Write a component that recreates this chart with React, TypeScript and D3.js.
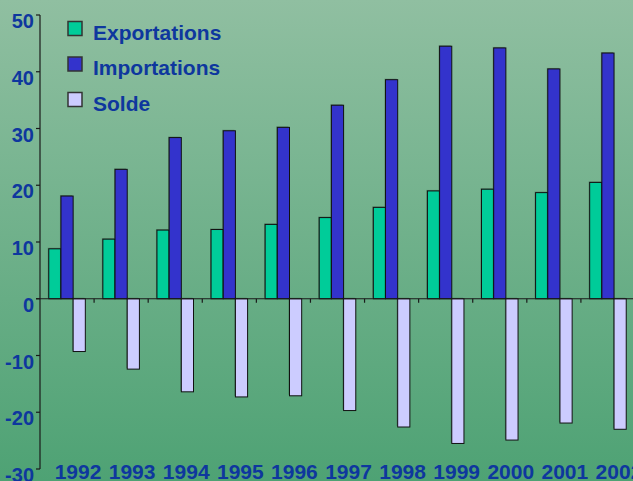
import React from "react";
import * as d3 from "d3";

const years = ["1992","1993","1994","1995","1996","1997","1998","1999","2000","2001","2002"];
const exportations = [8.8, 10.5, 12.1, 12.2, 13.1, 14.3, 16.1, 19.0, 19.3, 18.7, 20.5];
const importations = [18.1, 22.8, 28.4, 29.6, 30.2, 34.1, 38.6, 44.5, 44.2, 40.5, 43.3];
const solde = [-9.3, -12.4, -16.4, -17.3, -17.1, -19.7, -22.6, -25.5, -24.9, -21.9, -23.0];
const yTicks = [50, 40, 30, 20, 10, 0, -10, -20, -30];
const seriesNames = ["Exportations", "Importations", "Solde"];
const seriesColors = ["#00CC99", "#3333CC", "#CCCCFF"];

const W = 633, H = 481;
const TEXT = "#0E379E";

export default function App() {
  const y = d3.scaleLinear().domain([-30, 50]).range([469, 15]);
  const x0 = d3.scaleBand<string>().domain(years).range([40, 635]).padding(0);
  const x1 = d3.scaleBand<string>().domain(seriesNames).range([0, x0.bandwidth()]).paddingInner(0).paddingOuter(0.72);
  const legendY = d3.scalePoint<string>().domain(seriesNames).range([28.5, 99.5]);
  const data = [exportations, importations, solde];

  return (
    <svg width={W} height={H} style={{ position: "absolute", left: 0, top: 0 }} fontFamily="Liberation Sans, Arial, sans-serif">
      <defs>
        <linearGradient id="bg" x1="0" y1="0" x2="0" y2="1">
          <stop offset="0" stopColor="#90BFA1" />
          <stop offset="1" stopColor="#4EA274" />
        </linearGradient>
      </defs>
      <rect x={0} y={0} width={W} height={H} fill="url(#bg)" />

      {/* bars */}
      {years.map((yr, i) => (
        <g key={yr} transform={`translate(${x0(yr)},0)`}>
          {seriesNames.map((s, k) => {
            const v = data[k][i];
            const top = y(Math.max(0, v));
            const h = Math.abs(y(v) - y(0));
            return (
              <g key={s}>
                <rect x={(x1(s) as number) - 1} y={top - 1} width={x1.bandwidth()} height={h} fill="rgba(0,0,0,0.25)" />
                <rect x={x1(s)} y={top} width={x1.bandwidth()} height={h} fill={seriesColors[k]} stroke="#111" strokeWidth={1} />
              </g>
            );
          })}
        </g>
      ))}

      {/* y axis */}
      <line x1={40} x2={40} y1={y(50)} y2={y(-30)} stroke="#1a1a1a" strokeWidth={1.2} />
      {yTicks.map((t) => (
        <g key={t}>
          <line x1={36} x2={40} y1={y(t)} y2={y(t)} stroke="#1a1a1a" strokeWidth={1.2} />
          <text x={34} y={y(t) + 13} textAnchor="end" fontSize={20} fontWeight="bold" fill={TEXT}>{t}</text>
        </g>
      ))}

      {/* zero line */}
      <line x1={36} x2={W} y1={y(0)} y2={y(0)} stroke="#1a1a1a" strokeWidth={1.2} />
      {years.map((yr) => (
        <line key={yr} x1={x0(yr)! + x0.bandwidth()} x2={x0(yr)! + x0.bandwidth()} y1={y(0)} y2={y(0) + 4} stroke="#1a1a1a" strokeWidth={1.2} />
      ))}

      {/* year labels */}
      {years.map((yr) => (
        <text key={yr} x={x0(yr)! + x0.bandwidth() / 2 + 11} y={479} textAnchor="middle" fontSize={21} fontWeight="bold" fill={TEXT}>{yr}</text>
      ))}

      {/* legend */}
      {seriesNames.map((s, k) => (
        <g key={s} transform={`translate(0,${legendY(s)})`}>
          <rect x={68} y={-7} width={14} height={14} fill={seriesColors[k]} stroke="#333" strokeWidth={1.5} />
          <text x={93} y={11} fontSize={21} fontWeight="bold" fill={TEXT}>{s}</text>
        </g>
      ))}
    </svg>
  );
}
